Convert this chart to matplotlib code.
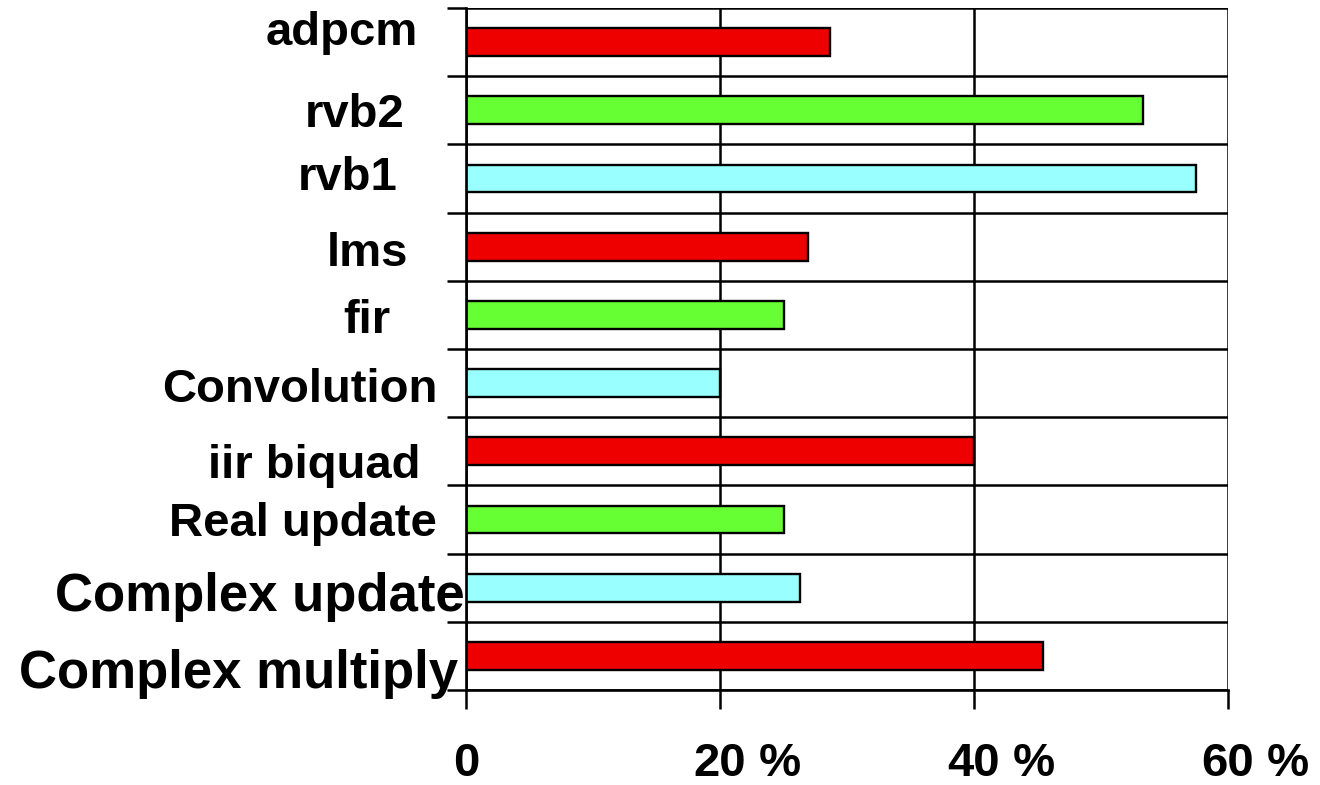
import matplotlib
matplotlib.use("Agg")
import matplotlib.pyplot as plt
from matplotlib.transforms import offset_copy, blended_transform_factory

# Benchmarks, listed bottom to top
categories = ["Complex multiply", "Complex update", "Real update", "iir biquad",
              "Convolution", "fir", "lms", "rvb1", "rvb2", "adpcm"]
values = [45.4, 26.3, 25.0, 40.0, 20.0, 25.0, 26.9, 57.5, 53.3, 28.7]
bar_colors = ["#EE0000", "#99FFFF", "#66FF33", "#EE0000", "#99FFFF",
              "#66FF33", "#EE0000", "#99FFFF", "#66FF33", "#EE0000"]

x_ticks = [0, 20, 40, 60]
x_tick_labels = ["0", "20 %", "40 %", "60 %"]

# Label placement: gap (px) between label end and axis, baseline drop (px), size (pt)
label_gap = [8, 1, 29, 46, 28, 76, 58, 68, 61, 48]
label_drop = [32, 23, 16, 27, 19, 18, 19, 12, 17, 3]
label_size = [38, 38, 34, 34, 34, 34, 34, 34, 34, 34]

plt.rcParams["font.family"] = ["Liberation Sans", "DejaVu Sans"]
plt.rcParams["font.weight"] = "bold"

DPI = 100
W, H = 1320, 785
fig = plt.figure(figsize=(W / DPI, H / DPI), dpi=DPI)
fig.patch.set_facecolor("white")
L, R, T, B = 466, 1228, 8, 690
ax = fig.add_axes([L / W, (H - B) / H, (R - L) / W, (B - T) / H])

n = len(categories)
pos = list(range(n))
ax.barh(pos, values, height=0.41, color=bar_colors, edgecolor="black",
        linewidth=1.7, zorder=3)

ax.set_xlim(0, 60)
ax.set_ylim(-0.5, n - 0.5)

# Row separators and vertical gridlines
ax.set_yticks([i - 0.5 for i in range(n + 1)])
ax.set_yticklabels([])
ax.set_xticks(x_ticks)
ax.set_xticklabels([])
ax.grid(True, color="black", linewidth=1.8, zorder=1)
ax.set_axisbelow(True)
ax.tick_params(axis="both", direction="out", length=14, width=1.8, color="black")

for side in ["top", "right"]:
    ax.spines[side].set_visible(False)
for side in ["left", "bottom"]:
    ax.spines[side].set_linewidth(1.9)
    ax.spines[side].set_zorder(4)

px = 72.0 / DPI  # points per pixel

# Category labels
ytrans = blended_transform_factory(ax.transAxes, ax.transData)
for i, name in enumerate(categories):
    tr = offset_copy(ytrans, fig=fig, x=-label_gap[i] * px,
                     y=-label_drop[i] * px, units="points")
    ax.text(0, i, name, transform=tr, ha="right", va="baseline",
            fontsize=label_size[i], fontweight="bold", color="black")

# Value axis labels: the number sits centred on its tick, the unit follows it
xtrans = blended_transform_factory(ax.transData, ax.transAxes)
for v, lab in zip(x_ticks, x_tick_labels):
    num, _, unit = lab.partition(" ")
    tr = offset_copy(xtrans, fig=fig, x=0, y=-86 * px, units="points")
    t = ax.text(v, 0, num, transform=tr, ha="center", va="baseline",
                fontsize=34, fontweight="bold", color="black")
    if unit:
        ax.annotate(" " + unit, xy=(1, 0), xycoords=t, ha="left", va="bottom",
                    fontsize=34, fontweight="bold", color="black",
                    annotation_clip=False)

fig.savefig("out.png", dpi=DPI, facecolor="white")
